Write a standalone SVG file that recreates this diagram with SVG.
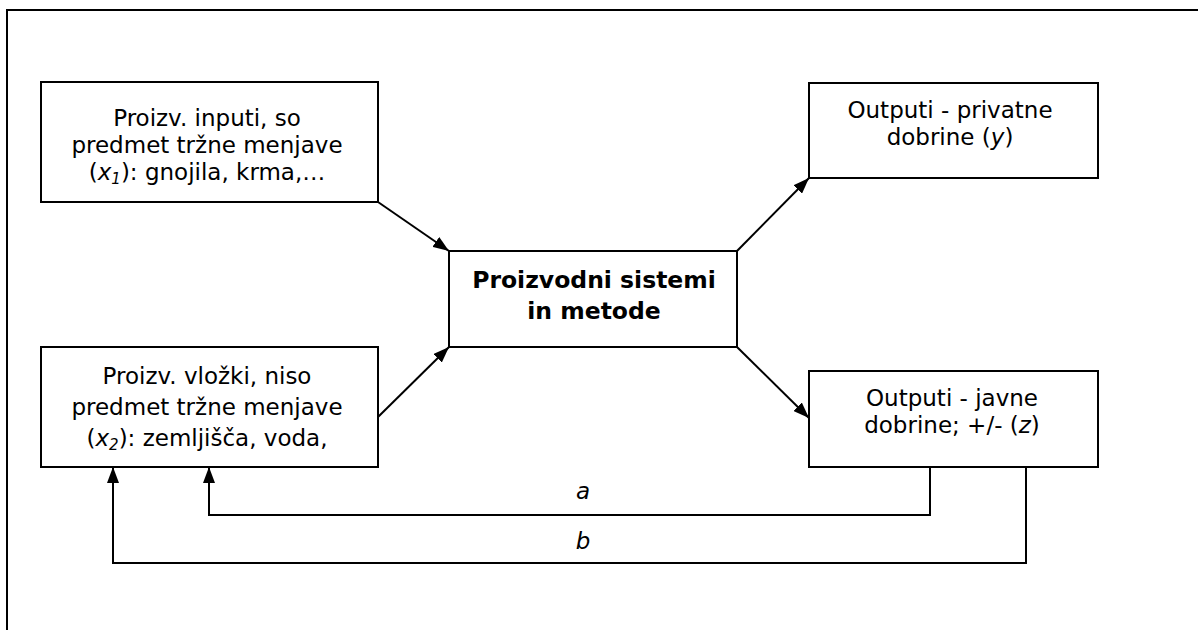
<svg xmlns="http://www.w3.org/2000/svg" width="1198" height="630" viewBox="0 0 1198 630">
<style>
.box{fill:#fff;stroke:#000;stroke-width:2}
.t{font-family:"DejaVu Sans","Noto Sans",sans-serif;font-size:23px;fill:#000;text-anchor:middle}
.b{font-weight:bold;font-size:23.5px}
.i{font-style:italic}
.ln{fill:none;stroke:#000;stroke-width:2}
</style>
<defs>
<marker id="ah" viewBox="0 0 16 12" refX="16" refY="6" markerWidth="16" markerHeight="12" markerUnits="userSpaceOnUse" orient="auto">
<path d="M0,0 L16,6 L0,12 z" fill="#000"/>
</marker>
</defs>
<rect width="1198" height="630" fill="#fff"/>
<path d="M7,630 V10 H1198" class="ln"/>
<g id="box-x1">
<rect class="box" x="41" y="82" width="337" height="120"/>
<text class="t" x="207" y="126">Proizv. inputi, so</text>
<text class="t" x="207" y="153">predmet tržne menjave</text>
<text class="t" x="207" y="180">(<tspan class="i">x</tspan><tspan class="i" font-size="15" dy="4">1</tspan><tspan dy="-4">): gnojila, krma,…</tspan></text>
</g>
<g id="box-x2">
<rect class="box" x="41" y="347" width="337" height="120"/>
<text class="t" x="207" y="384">Proizv. vložki, niso</text>
<text class="t" x="207" y="415">predmet tržne menjave</text>
<text class="t" x="207" y="446">(<tspan class="i">x</tspan><tspan class="i" font-size="15" dy="4">2</tspan><tspan dy="-4">): zemljišča, voda,</tspan></text>
</g>
<g id="box-center">
<rect class="box" x="449" y="251" width="288" height="96"/>
<text class="t b" x="594" y="288">Proizvodni sistemi</text>
<text class="t b" x="594" y="319">in metode</text>
</g>
<g id="box-y">
<rect class="box" x="809" y="83" width="289" height="95"/>
<text class="t" x="950" y="118">Outputi - privatne</text>
<text class="t" x="950" y="145">dobrine (<tspan class="i">y</tspan>)</text>
</g>
<g id="box-z">
<rect class="box" x="809" y="371" width="289" height="96"/>
<text class="t" x="952" y="406">Outputi - javne</text>
<text class="t" x="952" y="433">dobrine; +/- (<tspan class="i">z</tspan>)</text>
</g>
<g id="connectors">
<line class="ln" x1="378" y1="202" x2="449" y2="251" marker-end="url(#ah)"/>
<line class="ln" x1="378" y1="417" x2="449" y2="347" marker-end="url(#ah)"/>
<line class="ln" x1="737" y1="251" x2="809" y2="178" marker-end="url(#ah)"/>
<line class="ln" x1="737" y1="347" x2="809" y2="418" marker-end="url(#ah)"/>
<polyline class="ln" points="930,467 930,515 209,515 209,467" marker-end="url(#ah)"/>
<polyline class="ln" points="1026,467 1026,563 113,563 113,467" marker-end="url(#ah)"/>
<text class="t i" x="583" y="499">a</text>
<text class="t i" x="583" y="549">b</text>
</g>
</svg>
